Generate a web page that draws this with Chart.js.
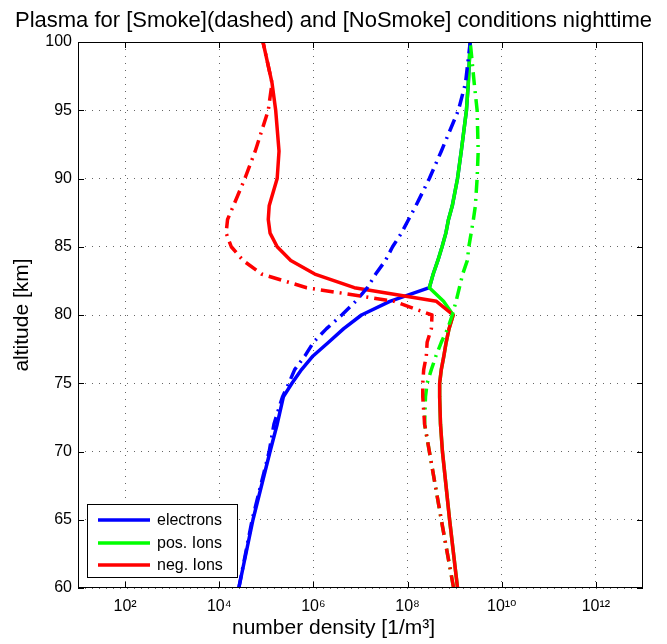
<!DOCTYPE html>
<html>
<head>
<meta charset="utf-8">
<script src="https://cdn.jsdelivr.net/npm/chart.js@4"></script>
<style>
  html, body { margin: 0; padding: 0; background: #fff; }
</style>
</head>
<body>
<canvas id="plasma" width="667" height="644"></canvas>
<script>
// altitudes in km, shared by every profile
const altitudes = [60, 65, 70, 72, 74, 75, 76, 77, 78, 79, 80, 81, 82, 83, 84, 85, 86, 87, 88, 90, 92, 95, 97, 100]

// [NoSmoke] -> solid
const electrons = [2.6e4, 5.2e4, 1.2e5, 1.7e5, 2.3e5, 3.5e5, 5.6e5, 9.8e5, 2.1e6, 4.4e6, 1.05e7, 4.2e7, 2.9e8, 3.5e8, 4.4e8, 5.4e8, 6.5e8, 7.4e8, 8.9e8, 1.15e9, 1.38e9, 1.78e9, 1.95e9, 2.14e9]
const posIons = [1.15e9, 7.8e8, 5.5e8, 5.0e8, 4.8e8, 4.8e8, 5.2e8, 5.9e8, 6.6e8, 7.6e8, 9.3e8, 5.8e8, 2.9e8, 3.5e8, 4.4e8, 5.4e8, 6.5e8, 7.4e8, 8.9e8, 1.15e9, 1.38e9, 1.78e9, 1.95e9, 2.14e9]
const negIons = [1.15e9, 7.8e8, 5.5e8, 5.0e8, 4.8e8, 4.8e8, 5.2e8, 5.9e8, 6.6e8, 7.6e8, 9.3e8, 4.1e8, 7.4e6, 1.07e6, 3.3e5, 1.7e5, 1.2e5, 1.1e5, 1.15e5, 1.7e5, 1.86e5, 1.58e5, 1.32e5, 8.5e4]

// [Smoke] -> dashed
const electronsSmoke = [2.6e4, 5.0e4, 1.15e5, 1.45e5, 2.2e5, 3.0e5, 4.0e5, 6.6e5, 1.0e6, 1.9e6, 4.0e6, 7.9e6, 1.4e7, 2.1e7, 3.4e7, 4.8e7, 7.4e7, 1.05e8, 1.5e8, 2.9e8, 5.2e8, 1.2e9, 1.7e9, 2.14e9]
const posIonsSmoke = [9.5e8, 5.2e8, 2.9e8, 2.3e8, 2.4e8, 2.6e8, 3.2e8, 4.0e8, 5.2e8, 7.1e8, 8.9e8, 1.07e9, 1.26e9, 1.48e9, 1.86e9, 2.0e9, 2.24e9, 2.5e9, 2.75e9, 3.0e9, 3.16e9, 3.0e9, 2.6e9, 2.14e9]
const negIonsSmoke = [9.5e8, 5.2e8, 2.9e8, 2.3e8, 2.1e8, 2.1e8, 2.2e8, 2.5e8, 2.6e8, 3.2e8, 3.3e8, 5.2e7, 7.2e5, 7.9e4, 3.2e4, 1.8e4, 1.4e4, 1.5e4, 2.0e4, 3.5e4, 5.8e4, 1.1e5, 1.32e5, 8.5e4]

const xTickValues = [1e2, 1e4, 1e6, 1e8, 1e10, 1e12]
const xTickLabels = ['10²', '10⁴', '10⁶', '10⁸', '10¹⁰', '10¹²']
const legendLabels = ['electrons', 'pos. Ions', 'neg. Ions']

const FONT = "'Liberation Sans', Arial, 'DejaVu Sans', sans-serif"
const colores = ['#0000ff', '#00ff00', '#ff0000']
const punteado = [13, 6, 2, 6]

const toPoints = (vals) => vals.map((v, i) => ({ x: v, y: altitudes[i] }))

// drawing order: solids first, dashed on top
const series = [
  { label: legendLabels[0], data: electrons, color: colores[0], dash: [] },
  { label: legendLabels[1], data: posIons, color: colores[1], dash: [] },
  { label: legendLabels[2], data: negIons, color: colores[2], dash: [] },
  { label: legendLabels[0] + ' smoke', data: electronsSmoke, color: colores[0], dash: punteado },
  { label: legendLabels[1] + ' smoke', data: posIonsSmoke, color: colores[1], dash: punteado },
  { label: legendLabels[2] + ' smoke', data: negIonsSmoke, color: colores[2], dash: punteado }
]

const datasets = series.map((s, i) => ({
  label: s.label,
  data: toPoints(s.data),
  borderColor: s.color,
  backgroundColor: s.color,
  borderWidth: 3.5,
  borderDash: s.dash,
  borderJoinStyle: 'round',
  pointRadius: 0,
  showLine: true,
  fill: false,
  tension: 0,
  order: series.length - i
}))

// box around the axes, inward ticks and the legend inside the plot
const marco = {
  id: 'marco',
  afterDraw(chart) {
    const { ctx, chartArea: a, scales } = chart
    ctx.save()
    ctx.strokeStyle = '#000'
    ctx.lineWidth = 1
    ctx.setLineDash([])
    ctx.strokeRect(a.left + 0.5, a.top + 0.5, a.width - 1, a.height - 1)

    ctx.beginPath()
    scales.x.ticks.forEach(t => {
      const px = Math.round(scales.x.getPixelForValue(t.value)) + 0.5
      ctx.moveTo(px, a.bottom); ctx.lineTo(px, a.bottom - 6)
      ctx.moveTo(px, a.top); ctx.lineTo(px, a.top + 6)
    })
    scales.y.ticks.forEach(t => {
      const py = Math.round(scales.y.getPixelForValue(t.value)) + 0.5
      ctx.moveTo(a.left, py); ctx.lineTo(a.left + 6, py)
      ctx.moveTo(a.right, py); ctx.lineTo(a.right - 6, py)
    })
    ctx.stroke()

    const bx = a.left + 9
    const by = a.bottom - 84
    const bw = 150
    const bh = 73
    ctx.fillStyle = '#fff'
    ctx.fillRect(bx, by, bw, bh)
    ctx.strokeRect(bx + 0.5, by + 0.5, bw, bh)

    const filas = [16, 39, 61]
    ctx.font = '16px ' + FONT
    ctx.textAlign = 'left'
    ctx.textBaseline = 'middle'
    legendLabels.forEach((lab, i) => {
      const y = by + filas[i]
      ctx.strokeStyle = colores[i]
      ctx.lineWidth = 3.5
      ctx.beginPath()
      ctx.moveTo(bx + 11, y)
      ctx.lineTo(bx + 63, y)
      ctx.stroke()
      ctx.fillStyle = '#000'
      ctx.fillText(lab, bx + 70, y + 1)
    })
    ctx.restore()
  }
}

const gridOpts = { color: 'rgba(0,0,0,0.6)', lineWidth: 1, drawTicks: false }

new Chart(document.getElementById('plasma'), {
  type: 'scatter',
  data: { datasets },
  options: {
    responsive: false,
    animation: false,
    layout: { padding: { left: 0, right: 0, top: 0, bottom: 0 } },
    plugins: {
      legend: { display: false },
      tooltip: { enabled: false },
      title: {
        display: true,
        text: 'Plasma for [Smoke](dashed) and [NoSmoke] conditions nighttime',
        color: '#000',
        font: { family: FONT, size: 22, weight: 'normal' },
        padding: { top: 8, bottom: 7.6 }
      },
      // x axis label, centred on the whole figure like the original
      subtitle: {
        display: true,
        position: 'bottom',
        text: 'number density [1/m³]',
        color: '#000',
        font: { family: FONT, size: 21, weight: 'normal' },
        padding: { top: 0, bottom: 3.4 }
      }
    },
    scales: {
      x: {
        type: 'logarithmic',
        min: 10,
        max: 1e13,
        afterBuildTicks: (scale) => { scale.ticks = xTickValues.map(v => ({ value: v })) },
        afterFit: (scale) => { scale.height = 27.4 },
        ticks: {
          autoSkip: false,
          maxRotation: 0,
          padding: 9,
          color: '#000',
          font: { family: FONT, size: 16 },
          callback: (value, index) => xTickLabels[index]
        },
        grid: gridOpts,
        border: { display: false, dash: [1, 6] }
      },
      y: {
        type: 'linear',
        min: 60,
        max: 100,
        afterFit: (scale) => { scale.width = 78 },
        ticks: {
          stepSize: 5,
          padding: 6,
          color: '#000',
          font: { family: FONT, size: 16 }
        },
        grid: gridOpts,
        border: { display: false, dash: [1, 6] },
        title: {
          display: true,
          text: 'altitude [km]',
          color: '#000',
          font: { family: FONT, size: 21 },
          padding: { top: 9.4, bottom: 0 }
        }
      },
      derecha: {
        position: 'right',
        display: true,
        afterFit: (scale) => { scale.width = 24 },
        ticks: { display: false },
        grid: { display: false },
        border: { display: false }
      }
    }
  },
  plugins: [marco]
})
</script>
</body>
</html>
